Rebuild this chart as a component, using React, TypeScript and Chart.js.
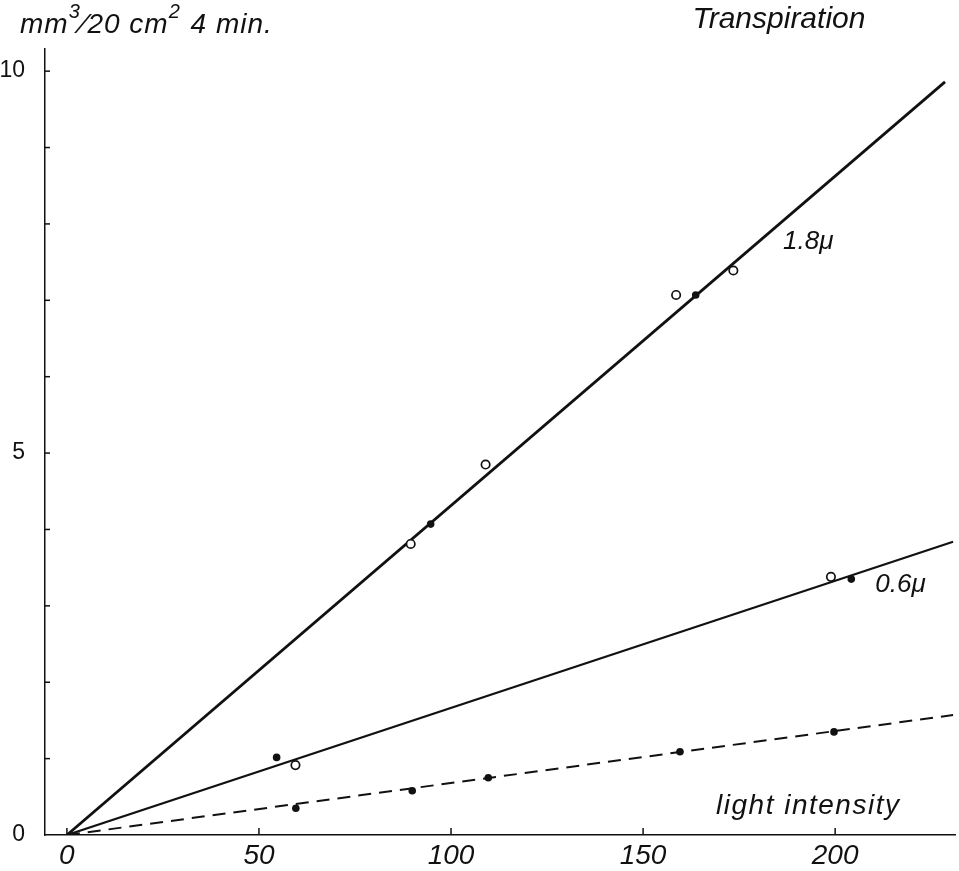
import React, { useEffect, useRef } from "react";
import Chart from "chart.js/auto";

const xTicks = [0, 50, 100, 150, 200];
const yTicks = [0, 5, 10];
const yMinorTicks = [1, 2, 3, 4, 5, 6, 7, 8, 9, 10];
const xMin = -5.7;
const xMax = 231.2;
const yMin = 0;
const yMax = 10.29;

const fit18X = [0, 228.6];
const fit18Y = [0, 9.86];
const fit06X = [0, 230.7];
const fit06Y = [0, 3.84];
const fitDarkX = [0, 230.7];
const fitDarkY = [0, 1.57];

const open18X = [89.5, 109, 158.6, 173.5];
const open18Y = [3.81, 4.85, 7.07, 7.39];
const filled18X = [94.7, 163.7];
const filled18Y = [4.07, 7.07];

const open06X = [59.5, 198.9];
const open06Y = [0.915, 3.38];
const filled06X = [54.6, 204.2];
const filled06Y = [1.016, 3.35];

const darkX = [59.6, 89.9, 109.7, 159.6, 199.7];
const darkY = [0.35, 0.58, 0.75, 1.09, 1.35];

const titleParts = [
  { t: "mm", sup: false },
  { t: "3", sup: true },
  { t: "\u2044" + "20 cm", sup: false },
  { t: "2", sup: true },
  { t: " 4 min.", sup: false },
];
const topRight = "Transpiration";
const lineLabels = [
  { text: "1.8\u03bc", x: 193, y: 7.76, size: 26, spacing: 0 },
  { text: "0.6\u03bc", x: 217, y: 3.28, size: 26, spacing: 0 },
  { text: "light intensity", x: 193, y: 0.38, size: 28, spacing: 1.5 },
];

const zip = (xs: number[], ys: number[]) => xs.map((x, i) => ({ x, y: ys[i] }));

const FONT = '"Liberation Sans", "DejaVu Sans", sans-serif';

const textPlugin = {
  id: "texts",
  afterDraw(chart: any) {
    const ctx = chart.ctx;
    const xs = chart.scales.x;
    const ys = chart.scales.y;
    ctx.save();
    ctx.fillStyle = "#111";
    ctx.textBaseline = "alphabetic";
    ctx.textAlign = "left";
    let cx = 20;
    for (const p of titleParts) {
      ctx.font = p.sup ? `italic 20px ${FONT}` : `italic 28px ${FONT}`;
      (ctx as any).letterSpacing = p.sup ? "0px" : "1px";
      const yy = p.sup ? 18 : 33;
      ctx.fillText(p.t, cx, yy);
      cx += ctx.measureText(p.t).width + (p.sup ? 2 : 0);
    }
    (ctx as any).letterSpacing = "0px";
    ctx.textBaseline = "middle";
    ctx.textAlign = "center";
    ctx.font = `italic 30px ${FONT}`;
    ctx.fillText(topRight, 779, 20);
    for (const l of lineLabels) {
      ctx.font = `italic ${l.size}px ${FONT}`;
      (ctx as any).letterSpacing = `${l.spacing}px`;
      ctx.fillText(l.text, xs.getPixelForValue(l.x), ys.getPixelForValue(l.y));
    }
    (ctx as any).letterSpacing = "0px";
    ctx.strokeStyle = "#111";
    ctx.lineWidth = 1.5;
    const bottom = chart.chartArea.bottom;
    const left = chart.chartArea.left;
    for (const v of xTicks) {
      const px = xs.getPixelForValue(v);
      ctx.beginPath();
      ctx.moveTo(px, bottom);
      ctx.lineTo(px, bottom - 7);
      ctx.stroke();
    }
    for (const v of yMinorTicks) {
      const py = ys.getPixelForValue(v);
      ctx.beginPath();
      ctx.moveTo(left, py);
      ctx.lineTo(left + 5, py);
      ctx.stroke();
    }
    ctx.restore();
  },
};

export default function App() {
  const ref = useRef<HTMLCanvasElement>(null);
  useEffect(() => {
    if (!ref.current) return;
    const openStyle = {
      showLine: false,
      pointRadius: 4.2,
      pointBackgroundColor: "#fff",
      pointBorderColor: "#111",
      pointBorderWidth: 1.7,
    };
    const filledStyle = {
      showLine: false,
      pointRadius: 3.8,
      pointBackgroundColor: "#111",
      pointBorderColor: "#111",
      pointBorderWidth: 0,
    };
    const lineStyle = {
      showLine: true,
      pointRadius: 0,
      borderColor: "#111",
      fill: false,
    };
    const chart = new Chart(ref.current, {
      type: "scatter",
      data: {
        datasets: [
          { data: zip(open18X, open18Y), ...openStyle },
          { data: zip(filled18X, filled18Y), ...filledStyle },
          { data: zip(open06X, open06Y), ...openStyle },
          { data: zip(filled06X, filled06Y), ...filledStyle },
          { data: zip(darkX, darkY), ...filledStyle },
          { data: zip(fit18X, fit18Y), ...lineStyle, borderWidth: 2.8 },
          { data: zip(fit06X, fit06Y), ...lineStyle, borderWidth: 2.2 },
          { data: zip(fitDarkX, fitDarkY), ...lineStyle, borderWidth: 2, borderDash: [13, 8] },
        ] as any,
      },
      options: {
        responsive: false,
        maintainAspectRatio: false,
        animation: false,
        layout: { autoPadding: false, padding: { top: 49, right: 4, left: 0, bottom: 0 } },
        plugins: { legend: { display: false }, tooltip: { enabled: false } },
        scales: {
          x: {
            type: "linear",
            min: xMin,
            max: xMax,
            grid: { display: false, drawTicks: false },
            border: { display: true, color: "#111", width: 1.5 },
            afterBuildTicks: (s: any) => {
              s.ticks = xTicks.map((v) => ({ value: v }));
            },
            afterFit: (s: any) => {
              s.height = 36;
              s.paddingLeft = 0;
              s.paddingRight = 0;
              s.paddingTop = 0;
              s.paddingBottom = 0;
            },
            ticks: {
              padding: 4,
              color: "#111",
              maxRotation: 0,
              font: { family: FONT, size: 28, style: "italic" },
            },
          },
          y: {
            type: "linear",
            min: yMin,
            max: yMax,
            grid: { display: false, drawTicks: false },
            border: { display: true, color: "#111", width: 1.5 },
            afterBuildTicks: (s: any) => {
              s.ticks = yTicks.map((v) => ({ value: v }));
            },
            afterFit: (s: any) => {
              s.width = 45;
              s.paddingTop = 0;
              s.paddingBottom = 0;
              s.paddingLeft = 0;
              s.paddingRight = 0;
            },
            ticks: {
              padding: 20,
              color: "#111",
              font: { family: FONT, size: 23 },
            },
          },
        },
      } as any,
      plugins: [textPlugin],
    });
    return () => chart.destroy();
  }, []);
  return (
    <div style={{ position: "absolute", left: 0, top: 0, width: 959, height: 871, background: "#fff" }}>
      <canvas ref={ref} width={959} height={871} style={{ width: 959, height: 871, display: "block" }} />
    </div>
  );
}
